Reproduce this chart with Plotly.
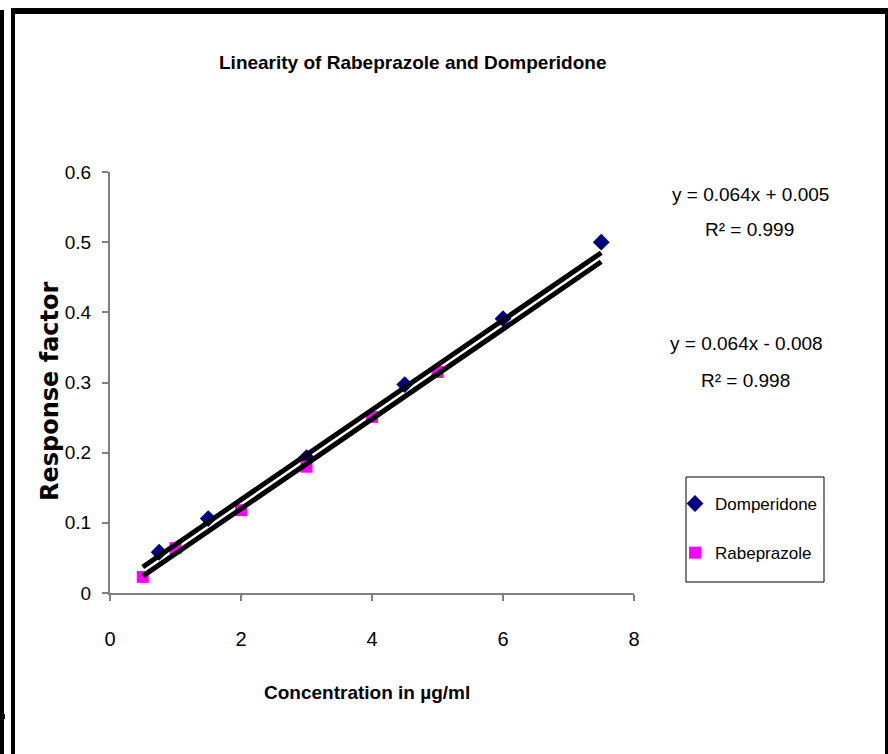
import plotly.graph_objects as go

# ---- data ----
dom_x = [0.75, 1.5, 3, 4.5, 6, 7.5]
dom_y = [0.058, 0.106, 0.193, 0.297, 0.391, 0.500]
rab_x = [0.5, 1, 2, 3, 4, 5]
rab_y = [0.023, 0.064, 0.118, 0.180, 0.251, 0.315]

# trendlines (from equations shown on chart)
trend_x = [0.5, 7.5]
dom_slope, dom_int = 0.064, 0.005
rab_slope, rab_int = 0.064, -0.008

eq_texts = ["y = 0.064x + 0.005", "R² = 0.999", "y = 0.064x - 0.008", "R² = 0.998"]
x_ticks = [0, 2, 4, 6, 8]
y_ticks = [0, 0.1, 0.2, 0.3, 0.4, 0.5, 0.6]

W, H = 888, 754
L, R, T, B = 110, 634, 172, 593  # plot area pixel bounds

def px(x):
    return (x - L) / (R - L)

def py(y):
    return (B - y) / (B - T)

FONT = "Liberation Sans, Arial, sans-serif"

fig = go.Figure()
fig.add_trace(go.Scatter(x=dom_x, y=dom_y, mode="markers", name="Domperidone",
                         marker=dict(symbol="diamond", color="#000080", size=13),
                         legendgroup="d"))
fig.add_trace(go.Scatter(x=rab_x, y=rab_y, mode="markers", name="Rabeprazole",
                         marker=dict(symbol="square", color="#FF00FF", size=12),
                         legendgroup="r"))
fig.add_trace(go.Scatter(x=trend_x, y=[dom_slope * v + dom_int for v in trend_x],
                         mode="lines", line=dict(color="black", width=5),
                         showlegend=False, hoverinfo="skip"))
fig.add_trace(go.Scatter(x=trend_x, y=[rab_slope * v + rab_int for v in trend_x],
                         mode="lines", line=dict(color="black", width=5),
                         showlegend=False, hoverinfo="skip"))

annotations = [
    dict(text="<b>Linearity of Rabeprazole and Domperidone</b>", x=px(412), y=py(62),
         font=dict(family=FONT, size=19, color="black")),
    dict(text="<b>Concentration in µg/ml</b>", x=px(367), y=py(692),
         font=dict(family=FONT, size=19, color="black")),
    dict(text="<b>Response factor</b>", x=px(50), y=py(391), textangle=-90,
         font=dict(family="DejaVu Sans, Liberation Sans, sans-serif", size=24, color="black")),
    dict(text=eq_texts[0], x=px(750), y=py(195), font=dict(family=FONT, size=19, color="black")),
    dict(text=eq_texts[1], x=px(749), y=py(229), font=dict(family=FONT, size=19, color="black")),
    dict(text=eq_texts[2], x=px(746), y=py(343), font=dict(family=FONT, size=19, color="black")),
    dict(text=eq_texts[3], x=px(745), y=py(380), font=dict(family=FONT, size=19, color="black")),
]
for a in annotations:
    a.update(xref="paper", yref="paper", showarrow=False, xanchor="center", yanchor="middle")

def rect(x0, y0, x1, y1, color="black"):
    return dict(type="rect", xref="paper", yref="paper",
                x0=px(x0), x1=px(x1), y0=py(y0), y1=py(y1),
                fillcolor=color, line=dict(width=0), layer="above")

shapes = [
    rect(0, 10, 4, 754),
    rect(11, 8, 15, 754),
    rect(11, 8, 888, 14),
    rect(885, 14, 888, 754),
    rect(0, 714, 5, 719),
    # legend frame
    dict(type="rect", xref="paper", yref="paper",
         x0=px(686), x1=px(824), y0=py(477), y1=py(582),
         fillcolor="rgba(0,0,0,0)", line=dict(color="black", width=1), layer="above"),
]

fig.update_layout(
    width=W, height=H,
    margin=dict(l=L, r=W - R, t=T, b=H - B, pad=0),
    paper_bgcolor="white", plot_bgcolor="white",
    showlegend=True,
    legend=dict(x=px(675), y=py(486), xanchor="left", yanchor="top",
                borderwidth=0, bgcolor="rgba(0,0,0,0)",
                font=dict(family=FONT, size=17, color="black"),
                traceorder="grouped", tracegroupgap=24, itemwidth=30),
    annotations=annotations,
    shapes=shapes,
    xaxis=dict(range=[0, 8], tickvals=x_ticks, ticktext=[str(v) for v in x_ticks],
               showgrid=False, zeroline=False, showline=True, linecolor="#808080", linewidth=2,
               ticks="outside", ticklen=6, tickcolor="#808080", tickwidth=1.5,
               ticklabelstandoff=21,
               tickfont=dict(family=FONT, size=20, color="black")),
    yaxis=dict(range=[0, 0.6], tickvals=y_ticks, ticktext=[("%g" % v) for v in y_ticks],
               showgrid=False, zeroline=False, showline=True, linecolor="#808080", linewidth=2,
               ticks="outside", ticklen=6, tickcolor="#808080", tickwidth=1.5,
               ticklabelstandoff=7,
               tickfont=dict(family=FONT, size=19, color="black")),
)

fig.write_html("out.html")
